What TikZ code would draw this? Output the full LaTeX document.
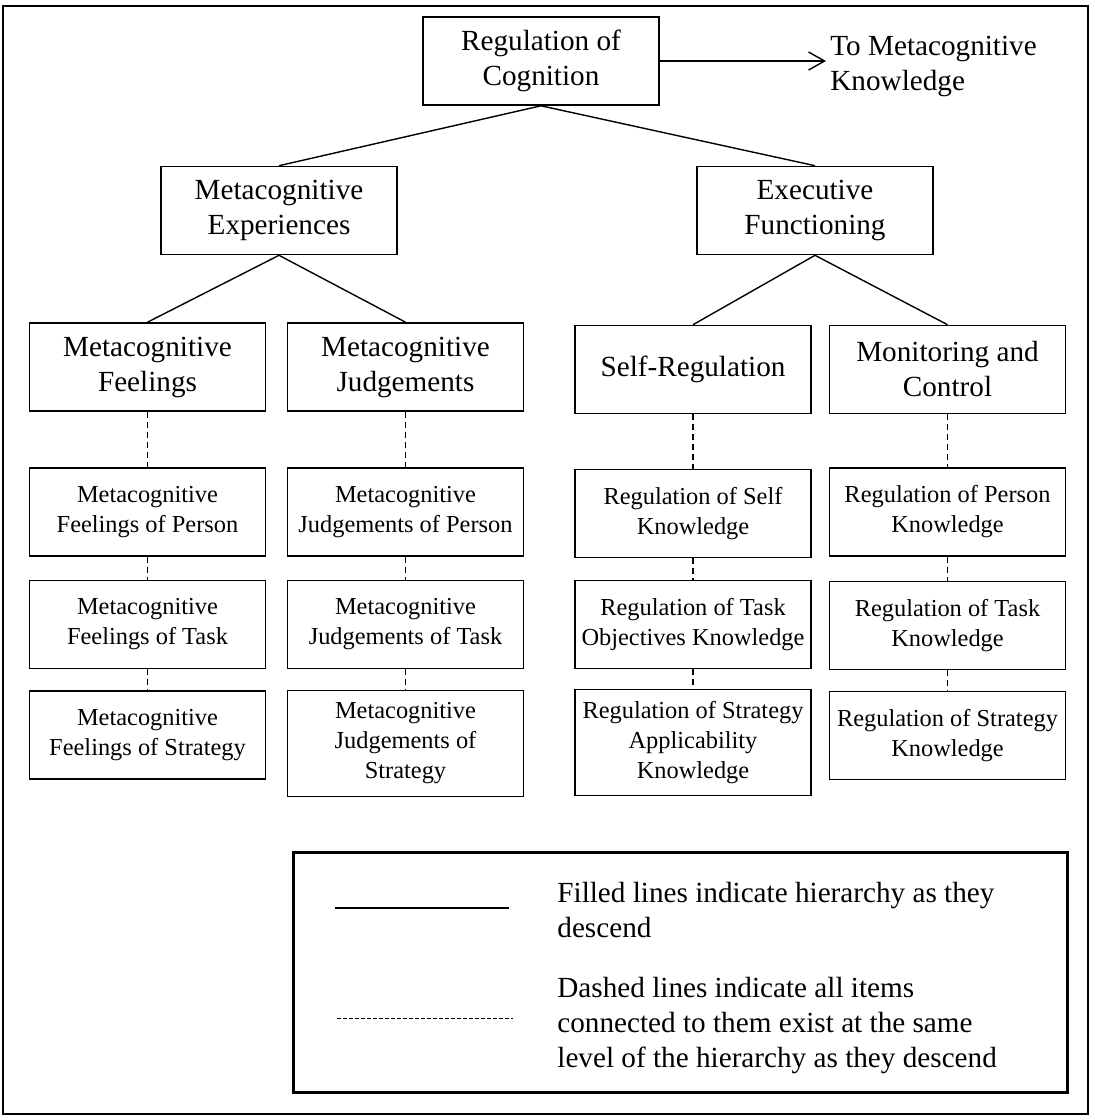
\documentclass[tikz,border=0pt]{standalone}
\usepackage{fontspec}
\setmainfont{Liberation Serif}
\usetikzlibrary{arrows.meta,positioning}

\newcommand{\catfont}{\fontsize{14.6}{17.5}\selectfont}
\newcommand{\itemfont}{\fontsize{12.2}{15}\selectfont}

\tikzset{
  catbox/.style={draw, line width=0.8pt, align=center, minimum width=118pt, minimum height=44pt, inner sep=2pt, font=\catfont},
  itembox/.style={draw, line width=0.8pt, align=center, minimum width=118pt, minimum height=44pt, inner sep=2pt, font=\itemfont},
  tallbox/.style={itembox, minimum height=53pt},
  hier/.style={line width=0.7pt},
  samelevel/.style={line width=0.55pt, dash pattern=on 3pt off 2pt},
}

\begin{document}
\begin{tikzpicture}[x=0.5pt, y=-0.5pt]
  \useasboundingbox (0,0) rectangle (1094,1120);
  \draw[line width=1.1pt] (3,6) rectangle (1088,1114);

  % top of the tree
  \node[catbox] (roc) at (541,61) {Regulation of\\Cognition};
  \node[font=\catfont, align=left, anchor=west, inner sep=2pt] (tmk) at (826,66) {To Metacognitive\\Knowledge};
  \draw[hier, -{Straight Barb[length=8pt,width=9pt]}] (roc.east) -- (roc.east -| tmk.west);

  \node[catbox] (mexp) at (279,210.5) {Metacognitive\\Experiences};
  \node[catbox] (exf) at (815,210.5) {Executive\\Functioning};

  \node[catbox] (mfeel) at (147.5,367) {Metacognitive\\Feelings};
  \node[catbox] (mjudg) at (405.5,367) {Metacognitive\\Judgements};
  \node[catbox] (sreg) at (693,369.5) {Self-Regulation};
  \node[catbox] (mctrl) at (947.5,369.5) {Monitoring and\\Control};

  % items on the same level
  \node[itembox] (fperson) at (147.5,512) {Metacognitive\\Feelings of Person};
  \node[itembox] (ftask) at (147.5,624.5) {Metacognitive\\Feelings of Task};
  \node[itembox] (fstrat) at (147.5,735) {Metacognitive\\Feelings of Strategy};

  \node[itembox] (jperson) at (405.5,512) {Metacognitive\\Judgements of Person};
  \node[itembox] (jtask) at (405.5,624.5) {Metacognitive\\Judgements of Task};
  \node[tallbox] (jstrat) at (405.5,743.5) {Metacognitive\\Judgements of\\Strategy};

  \node[itembox] (sself) at (693,513.5) {Regulation of Self\\Knowledge};
  \node[itembox] (stask) at (693,624.5) {Regulation of Task\\Objectives Knowledge};
  \node[tallbox] (sstrat) at (693,742.5) {Regulation of Strategy\\Applicability\\Knowledge};

  \node[itembox] (mperson) at (947.5,512) {Regulation of Person\\Knowledge};
  \node[itembox] (mtask) at (947.5,625.5) {Regulation of Task\\Knowledge};
  \node[itembox] (mstrat) at (947.5,735.5) {Regulation of Strategy\\Knowledge};

  % hierarchy
  \foreach \a/\b in {roc/mexp, roc/exf, mexp/mfeel, mexp/mjudg, exf/sreg, exf/mctrl}
    \draw[hier] (\a.south) -- (\b.north);
  \foreach \a/\b in {mfeel/fperson, fperson/ftask, ftask/fstrat,
                     mjudg/jperson, jperson/jtask, jtask/jstrat,
                     sreg/sself, sself/stask, stask/sstrat,
                     mctrl/mperson, mperson/mtask, mtask/mstrat}
    \draw[samelevel] (\a.south) -- (\b.north);

  % legend
  \node[draw, line width=1.5pt, minimum width=387pt, minimum height=120pt] (legend) at (680,972) {};
  \draw[hier] (335,908) -- (509,908);
  \draw[line width=0.5pt, dash pattern=on 2pt off 1pt] (337,1018) -- (513,1018);
  \node[font=\catfont, align=left, anchor=west, inner sep=2pt] (filledtxt) at (553,910)
    {Filled lines indicate hierarchy as they\\descend};
  \node[font=\catfont, align=left, anchor=west, inner sep=2pt] (dashedtxt) at (553,1026)
    {Dashed lines indicate all items\\connected to them exist at the same\\level of the hierarchy as they descend};
\end{tikzpicture}
\end{document}
